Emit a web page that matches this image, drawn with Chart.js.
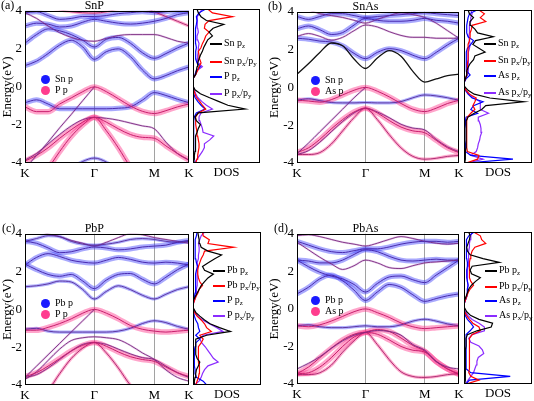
<!DOCTYPE html>
<html><head><meta charset="utf-8">
<script src="https://cdn.jsdelivr.net/npm/chart.js@4.4.0/dist/chart.umd.min.js"></script>
<style>
html,body{margin:0;padding:0;background:#fff;}
#wrap{position:relative;width:534px;height:401px;overflow:hidden;font-family:'Liberation Serif','Times New Roman',serif;color:#000;}
#wrap canvas{position:absolute;}
.t{position:absolute;font-size:12px;line-height:12px;white-space:nowrap;}
.c{transform:translateX(-50%);}
.dot{position:absolute;width:9px;height:9px;border-radius:50%;}
.lg{position:absolute;font-size:10px;line-height:10px;white-space:nowrap;}
.dl{position:absolute;height:1.6px;}
.dt{position:absolute;font-size:10px;line-height:10px;white-space:nowrap;}
.dt sub{font-size:7px;vertical-align:-2px;line-height:0;}
</style></head>
<body><div id="wrap"></div>
<script>
// ---------- data ----------
const kPath = [0, 0.667, 1.333, 2, 2.667, 3.333, 4, 4.692, 5.385, 6.077, 6.769, 7.464, 8.131, 8.797, 9.464];
const kTickPos = [0, 4, 7.464, 9.464];
const kTickLabels = ['K', 'Γ', 'M', 'K'];
const dosEnergy = [-4,-3.8,-3.6,-3.4,-3.2,-3,-2.8,-2.6,-2.4,-2.2,-2,-1.8,-1.6,-1.4,-1.2,-1,-0.8,-0.6,-0.4,-0.2,0,0.2,0.4,0.6,0.8,1,1.2,1.4,1.6,1.8,2,2.2,2.4,2.6,2.8,3,3.2,3.4,3.6,3.8,4];

// band energies (eV) along K-Γ-M-K, one row per band
const bandsSnP = [
 [-1.05,-1.3,-1.3,-0.9,-0.58,-0.25,0,-0.25,-0.62,-1.0,-1.28,-1.4,-1.25,-1.05,-0.9],
 [-0.83,-0.68,-0.9,-1.15,-1.15,-1.15,-1.15,-1.15,-1.12,-1.05,-0.7,-0.3,-0.45,-0.65,-0.83],
 [-4.3,-3.6,-2.9,-2.15,-1.45,-0.72,0,null,null,null,null,null,null,null,null],
 [-3.9,-3.6,-3.2,-2.7,-2.25,-1.85,-1.6,-1.85,-2.2,-2.5,-2.65,-2.7,-3.1,-3.5,-3.85],
 [-3.85,-3.5,-3.0,-2.5,-2.05,-1.72,-1.6,-1.65,-1.75,-1.9,-2.05,-2.2,-2.9,-3.5,-3.85],
 [-6,-5.2,-4.3,-3.4,-2.6,-2.0,-1.6,-2.3,-3.2,-4.2,-5.0,-5.5,-5.8,-6,-6],
 [-6,-6,-5.5,-5,-4.3,-3.92,-3.74,-3.95,-4.4,-5,-5.5,-6,-6,-6,-6],
 [1.12,1.35,1.75,2.2,2.45,2.1,1.45,1.85,2.0,1.6,0.9,0.42,0.6,0.85,1.05],
 [2.3,2.75,3.05,2.95,2.75,2.45,2.1,2.5,2.6,2.3,1.8,1.5,1.75,2.05,2.3],
 [3.9,3.6,3.2,2.85,2.6,2.45,2.4,2.55,2.7,2.75,2.75,2.75,2.6,2.4,2.3],
 [3.2,3.35,3.3,3.15,3.2,3.4,3.55,3.45,3.35,3.3,3.35,3.45,3.6,3.8,3.9],
 [3.9,3.95,3.75,3.55,3.6,3.7,3.7,3.75,3.85,3.9,3.95,3.9,3.95,4.0,4.0],
 [4.6,4.4,4.2,4.05,3.95,3.9,3.88,3.95,4.1,4.3,4.2,3.95,3.7,3.45,3.2]
];
const charSnP = ['P','B','m','P','m','P','b','B','B','m','B','B','p'];

const bandsSnAs = [
 [-0.68,-0.72,-0.78,-0.65,-0.4,-0.15,0,-0.2,-0.5,-0.85,-1.15,-1.28,-1.1,-0.85,-0.68],
 [-0.68,-0.6,-0.7,-0.8,-0.82,-0.82,-0.8,-0.82,-0.82,-0.75,-0.55,-0.4,-0.45,-0.55,-0.68],
 [-3.5,-2.95,-2.35,-1.75,-1.15,-0.55,0,null,null,null,null,null,null,null,null],
 [-3.45,-3.2,-2.75,-2.2,-1.7,-1.3,-1.1,-1.35,-1.75,-2.1,-2.3,-2.4,-2.8,-3.2,-3.45],
 [-3.55,-3.35,-2.9,-2.35,-1.8,-1.35,-1.1,-1.3,-1.6,-1.95,-2.15,-2.25,-2.75,-3.15,-3.4],
 [-3.55,-3.55,-3.45,-3.0,-2.3,-1.6,-1.1,-1.7,-2.5,-3.2,-3.65,-3.8,-3.75,-3.65,-3.6],
 [0.7,1.25,1.85,2.35,2.2,1.5,1.0,1.55,1.95,1.65,0.85,0.28,0.45,0.62,0.7],
 [2.6,2.55,2.45,2.4,2.2,1.8,1.52,1.85,2.05,1.95,1.7,1.52,1.85,2.25,2.6],
 [2.7,2.85,2.7,2.5,2.65,3.0,3.3,3.2,2.95,2.75,2.65,2.65,2.6,2.6,2.6],
 [3.1,3.25,3.05,2.8,2.9,3.3,3.65,3.55,3.5,3.5,3.55,3.65,3.55,3.5,3.4],
 [3.75,3.6,3.75,3.9,3.9,3.8,3.7,3.75,3.8,3.85,3.9,3.95,3.9,3.85,3.8],
 [4.3,4.1,3.9,3.8,3.7,3.55,3.4,3.6,3.8,3.95,3.85,3.7,3.4,3.0,2.6]
];
const charSnAs = ['P','b','m','P','m','p','k','B','m','B','B','m'];

const bandsPbP = [
 [-1.1,-1.1,-0.95,-0.75,-0.5,-0.2,0,-0.2,-0.5,-0.85,-1.05,-1.15,-1.2,-1.15,-1.1],
 [-1.05,-1.0,-1.15,-1.2,-1.2,-1.2,-1.2,-1.2,-1.15,-1.0,-0.75,-0.6,-0.7,-0.9,-1.05],
 [-3.6,-3.0,-2.4,-1.8,-1.2,-0.6,0,null,null,null,null,null,null,null,null],
 [-3.55,-3.35,-3.0,-2.6,-2.2,-1.9,-1.75,-1.95,-2.25,-2.5,-2.65,-2.75,-3.05,-3.35,-3.55],
 [-3.6,-3.45,-3.1,-2.65,-2.2,-1.85,-1.75,-1.85,-2.1,-2.35,-2.55,-2.65,-3.0,-3.35,-3.6],
 [-3.7,-3.3,-2.7,-2.1,-1.65,-1.5,-1.45,-1.5,-1.6,-1.9,-2.3,-2.65,-3.2,-3.6,-3.8],
 [-5.5,-5,-4.3,-3.4,-2.6,-2.05,-1.75,-2.3,-3.1,-4.0,-4.6,-5,-5,-5,-5],
 [1.2,1.25,1.35,1.5,1.45,1.05,0.55,0.95,1.25,1.05,0.75,0.55,0.8,1.05,1.2],
 [2.4,2.1,1.85,1.75,1.85,1.5,1.1,1.55,1.85,1.9,1.6,1.35,1.7,2.1,2.4],
 [2.35,2.75,2.95,2.8,2.6,2.5,2.45,2.6,2.75,2.65,2.5,2.45,2.5,2.45,2.35],
 [3.6,3.5,3.25,3.0,3.05,3.2,3.3,3.25,3.15,3.2,3.3,3.35,3.4,3.55,3.65],
 [3.6,3.75,3.9,3.85,3.6,3.45,3.4,3.45,3.55,3.7,3.75,3.7,3.6,3.55,3.6],
 [4.4,4.2,4.0,3.85,3.65,3.5,3.35,3.55,3.8,4.0,3.95,3.8,3.7,3.6,3.5]
];
const charPbP = ['P','b','m','P','m','m','p','b','B','B','B','b','m'];

const bandsPbAs = [
 [-0.9,-0.95,-0.85,-0.65,-0.4,-0.15,0,-0.2,-0.45,-0.75,-0.95,-1.05,-1.0,-0.95,-0.9],
 [-0.9,-0.85,-0.95,-1.0,-1.0,-0.95,-0.9,-0.95,-0.95,-0.85,-0.65,-0.55,-0.65,-0.8,-0.9],
 [-3.2,-2.9,-2.55,-2.1,-1.7,-1.4,-1.25,-1.15,-1.2,-1.4,-1.9,-2.2,-2.8,-3.1,-3.2],
 [-3.45,-3.1,-2.6,-2.1,-1.65,-1.35,-1.25,-1.35,-1.65,-2.0,-2.2,-2.3,-2.8,-3.2,-3.45],
 [-3.45,-3.4,-3.1,-2.6,-2.0,-1.5,-1.25,-1.1,-1.2,-1.55,-1.95,-2.25,-2.8,-3.2,-3.5],
 [-3.5,-3.5,-3.4,-3.0,-2.3,-1.7,-1.25,-1.9,-2.7,-3.35,-3.6,-3.65,-3.6,-3.5,-3.45],
 [0.8,1.15,1.6,1.8,1.5,1.0,0.45,0.9,1.3,1.15,0.75,0.4,0.55,0.7,0.8],
 [2.6,2.25,1.95,1.75,1.6,1.3,0.9,1.35,1.7,1.75,1.55,1.4,1.8,2.2,2.6],
 [3.55,3.15,2.75,2.4,2.1,2.3,2.6,2.45,2.2,2.15,2.3,2.45,2.5,2.55,2.6],
 [2.6,2.55,2.45,2.45,2.6,2.9,3.15,3.05,2.8,2.6,2.55,2.6,2.65,2.6,2.6],
 [3.6,3.4,3.2,3.05,3.0,3.1,3.2,3.2,3.3,3.45,3.55,3.6,3.6,3.55,3.6],
 [3.9,3.95,3.85,3.7,3.55,3.45,3.35,3.5,3.7,3.85,3.75,3.6,3.5,3.45,3.5]
];
const charPbAs = ['P','b','m','P','P','p','B','B','m','B','B','m'];

// projected DOS (arb. units) on dosEnergy grid
const dosSnP_Sn_pz   = [1,1.5,2,3,3,4,4,4,6,8,11,5,3,8,78,52,38,24,11,3,0,0,0.5,4,5,6,7,9,11,14,16,19,22,29,24,30,46,20,12,8,6];
const dosSnP_Sn_pxy  = [4,6,7,8,9,9,8,7,6,5,4,4,4,8,19,14,10,5,3,1,0,0,0.5,4,7,9,12,10,9,8,12,14,17,19,24,17,18,24,59,29,22];
const dosSnP_P_pz    = [1,1,1,1,1,1,1,1,1,1,1,1,2,5,18,12,7,3,1,0.5,0,0,1,3,5,11,6,4,4,4,5,4,4,3,4,4,5,6,5,9,19];
const dosSnP_P_pxy   = [2,6,10,14,17,17,25,31,15,14,12,10,9,12,29,20,13,7,4,2,0,0,1,4,6,14,8,6,7,8,8,9,7,6,8,7,6,6,7,10,14];

const dosSnAs_Sn_pz  = [1,2,2,2,3,3,3,3,3,3,3,4,6,15,26,32,88,38,15,6,1,0,2,4,4,6,9,14,16,31,22,13,17,43,20,16,10,9,14,8,6];
const dosSnAs_Sn_pxy = [3,20,22,5,4,4,4,4,4,4,4,4,5,10,16,13,16,18,8,3,0.5,0,2,4,4,5,5,6,6,6,6,6,8,9,9,11,12,32,24,30,22];
const dosSnAs_As_pz  = [3,72,10,2,2,2,1,1,1,1,2,2,3,20,10,14,28,12,6,2,0,0,3,9,4,3,3,3,4,4,5,10,14,6,4,4,4,5,6,8,19];
const dosSnAs_As_pxy = [5,28,10,18,20,21,23,24,26,25,24,22,21,36,24,24,24,14,8,3,0.5,0,2,5,6,6,6,6,7,7,8,9,8,7,8,8,8,9,10,12,10];

const dosPbP_Pb_pz   = [2,2,3,4,5,8,10,6,4,4,4,4,4,20,55,39,25,17,10,4,1,0,0,3,6,9,12,17,22,30,17,14,23,32,42,22,12,10,9,8,7];
const dosPbP_Pb_pxy  = [4,6,8,9,10,9,8,8,8,8,8,12,15,10,27,20,17,12,6,2,0,0,2,4,7,9,14,10,8,7,7,8,10,12,15,17,60,22,24,15,14];
const dosPbP_P_pz    = [20,15,5,3,3,2,2,2,2,2,3,4,10,4,10,8,7,4,2,1,0,0,1,2,3,3,4,4,4,4,5,7,5,4,3,3,4,3,3,5,6];
const dosPbP_P_pxy   = [2,9,12,14,17,22,37,30,26,22,18,13,10,15,44,35,24,14,7,3,0,0,2,4,5,5,6,6,6,6,6,6,7,8,8,9,9,8,10,12,17];

const dosPbAs_Pb_pz  = [1,2,2,2,2,2,2,2,2,2,3,3,3,5,19,40,42,22,10,4,1,0,1,3,5,7,11,17,24,11,9,12,52,28,9,5,4,6,8,9,7];
const dosPbAs_Pb_pxy = [3,22,10,7,8,8,8,8,8,8,8,8,8,12,24,22,13,8,4,1,0,0,2,4,6,9,14,10,8,8,8,8,8,9,10,12,16,32,26,24,14];
const dosPbAs_As_pz  = [3,8,68,10,3,3,3,3,3,3,3,3,3,4,9,14,10,5,2,1,0,0,2,4,5,5,6,5,4,4,4,5,5,4,3,3,4,4,4,7,15];
const dosPbAs_As_pxy = [2,6,10,14,16,18,19,21,29,27,22,10,7,12,30,30,22,12,6,2,0,0,2,4,5,5,6,5,5,5,5,6,6,7,7,7,8,8,9,10,12];

// ---------- drawing ----------
const FONT = "'Liberation Serif','Times New Roman',serif";
const wrap = document.getElementById('wrap');
const fatColor = {B:'rgba(50,50,250,0.42)', b:'rgba(50,50,250,0.38)', P:'rgba(255,40,130,0.42)', p:'rgba(255,40,130,0.38)', m:'rgba(160,50,170,0.25)'};
const fatWidth = {B:5, b:3.2, P:5.5, p:3.2, m:2};
const coreColor = {B:'#4a2cb0', b:'#552a9a', P:'#c8206e', p:'#a5206a', m:'#7a2a80', k:'#111111'};
const coreWidth = {B:1, b:0.9, P:1, p:0.9, m:0.9, k:1.3};
const dosColors = ['#000000','#ff0000','#0000ff','#8b2cff'];

const framePlugin = {id:'frame', afterDatasetsDraw(chart){
  const {ctx, chartArea:a} = chart; ctx.save(); ctx.strokeStyle='#000'; ctx.lineWidth=1;
  ctx.strokeRect(Math.round(a.left)+0.5, Math.round(a.top)+0.5, Math.round(a.right-a.left)-1, Math.round(a.bottom-a.top)-1);
  ctx.restore(); }};

function mk(l,t,w,h){ const c=document.createElement('canvas'); c.width=w; c.height=h; c.style.left=l+'px'; c.style.top=t+'px'; c.style.width=w+'px'; c.style.height=h+'px'; wrap.appendChild(c); return c; }
function txt(html, cls, l, t, extra){ const d=document.createElement('div'); d.className=cls; d.innerHTML=html; d.style.left=l+'px'; d.style.top=t+'px'; if(extra) Object.assign(d.style, extra); wrap.appendChild(d); return d; }

const panels = [
 {tag:'(a)', name:'SnP', cat:'Sn', an:'P', bands:bandsSnP, kinds:charSnP, dos:[dosSnP_Sn_pz,dosSnP_Sn_pxy,dosSnP_P_pz,dosSnP_P_pxy],
  x0:0, plotL:25, plotR:189, plotT:9, plotB:163, dosL:193, dosR:260, tagX:1, legX:45, legY:79, dlX:210, dlY:[43,61,76,93]},
 {tag:'(b)', name:'SnAs', cat:'Sn', an:'As', bands:bandsSnAs, kinds:charSnAs, dos:[dosSnAs_Sn_pz,dosSnAs_Sn_pxy,dosSnAs_As_pz,dosSnAs_As_pxy],
  x0:267, plotL:297, plotR:459, plotT:10, plotB:163, dosL:464, dosR:532, tagX:268, legX:315, legY:80, dlX:484, dlY:[43,60,75,92]},
 {tag:'(c)', name:'PbP', cat:'Pb', an:'P', bands:bandsPbP, kinds:charPbP, dos:[dosPbP_Pb_pz,dosPbP_Pb_pxy,dosPbP_P_pz,dosPbP_P_pxy],
  x0:0, plotL:25, plotR:189, plotT:232, plotB:385, dosL:193, dosR:261, tagX:2, legX:45, legY:303, dlX:213, dlY:[270,285,300,315]},
 {tag:'(d)', name:'PbAs', cat:'Pb', an:'As', bands:bandsPbAs, kinds:charPbAs, dos:[dosPbAs_Pb_pz,dosPbAs_Pb_pxy,dosPbAs_As_pz,dosPbAs_As_pxy],
  x0:267, plotL:297, plotR:459, plotT:232, plotB:384, dosL:464, dosR:532, tagX:274, legX:315, legY:300, dlX:485, dlY:[270,286,300,315]}
];

panels.forEach(p => {
  const H = (p.plotB - p.plotT) + 9 + 22;
  // band structure
  const cv = mk(p.x0, p.plotT - 9, p.plotR - p.x0 + 8, H);
  const datasets = [];
  p.bands.forEach((b, i) => {
    const kind = p.kinds[i];
    const pts = kPath.map((k, j) => ({x:k, y:b[j]}));
    const base = {data:pts, showLine:true, pointRadius:0, cubicInterpolationMode:'monotone', spanGaps:false, borderCapStyle:'round', borderJoinStyle:'round'};
    if (kind !== 'k') datasets.push(Object.assign({}, base, {borderColor:fatColor[kind], borderWidth:fatWidth[kind], order:2}));
    datasets.push(Object.assign({}, base, {borderColor:coreColor[kind], borderWidth:coreWidth[kind], order:1}));
  });
  new Chart(cv, {type:'scatter', data:{datasets}, plugins:[framePlugin], options:{
    responsive:false, animation:false, events:[],
    layout:{padding:{top:9, right:8, left:0, bottom:0}},
    plugins:{legend:{display:false}, tooltip:{enabled:false}},
    scales:{
      x:{type:'linear', min:0, max:9.464,
         afterBuildTicks: s => { s.ticks = kTickPos.map(v => ({value:v})); },
         afterFit: s => { s.height = 22; },
         ticks:{autoSkip:false, maxRotation:0, minRotation:0, padding:3, color:'#000', font:{family:FONT, size:13}, callback:(v,i) => kTickLabels[i]},
         grid:{drawTicks:false, lineWidth:0.8, color: c => (c.tick && (c.tick.value === 4 || c.tick.value === 7.464)) ? '#8a8a8a' : 'rgba(0,0,0,0)'},
         border:{display:false}},
      y:{type:'linear', min:-4, max:4,
         afterFit: s => { s.width = p.plotL - p.x0; },
         ticks:{stepSize:2, padding:3, color:'#000', font:{family:FONT, size:13}},
         grid:{display:false, drawTicks:false}, border:{display:false},
         title:{display:true, text:'Energy(eV)', color:'#000', font:{family:FONT, size:13}, padding:0}}
    }}});

  // DOS
  const dv = mk(p.dosL - 2, p.plotT - 9, p.dosR - p.dosL + 4, H);
  const dsets = p.dos.map((s, i) => ({data: dosEnergy.map((e, j) => ({x:s[j], y:e})), showLine:true, pointRadius:0, borderColor:dosColors[i], borderWidth:1.2, tension:0}));
  new Chart(dv, {type:'scatter', data:{datasets:dsets}, plugins:[framePlugin], options:{
    responsive:false, animation:false, events:[],
    layout:{padding:{top:9, right:2, left:2, bottom:0}},
    plugins:{legend:{display:false}, tooltip:{enabled:false}},
    scales:{
      x:{type:'linear', min:0, max:100, afterFit: s => { s.height = 22; },
         ticks:{display:false}, grid:{display:false, drawTicks:false}, border:{display:false},
         title:{display:true, text:'DOS', color:'#000', font:{family:FONT, size:13}, padding:{top:0, bottom:5}}},
      y:{type:'linear', min:-4, max:4, display:false}
    }}});

  // texts
  const gx = p.plotL + (p.plotR - p.plotL) * 4 / 9.464;
  const ty = p.plotT - 10;
  txt(p.name, 't c', gx, ty);
  txt(p.tag, 't', p.tagX, ty);
  // band legend
  txt('', 'dot', p.legX - 4.5, p.legY - 4.5, {background:'#1a1aff'});
  txt('', 'dot', p.legX - 4.5, p.legY + 6.5, {background:'#ff3d8e'});
  txt(p.cat + ' p', 'lg', p.legX + 10, p.legY - 5);
  txt(p.an + ' p', 'lg', p.legX + 10, p.legY + 6);
  // DOS legend
  const labs = [p.cat+' p<sub>z</sub>', p.cat+' p<sub>x</sub>/p<sub>y</sub>', p.an+' p<sub>z</sub>', p.an+' p<sub>x</sub>/p<sub>y</sub>'];
  labs.forEach((l, i) => {
    txt('', 'dl', p.dlX, p.dlY[i], {width:'12px', background:dosColors[i]});
    txt(l, 'dt', p.dlX + 14, p.dlY[i] - 5);
  });
});
</script></body></html>
